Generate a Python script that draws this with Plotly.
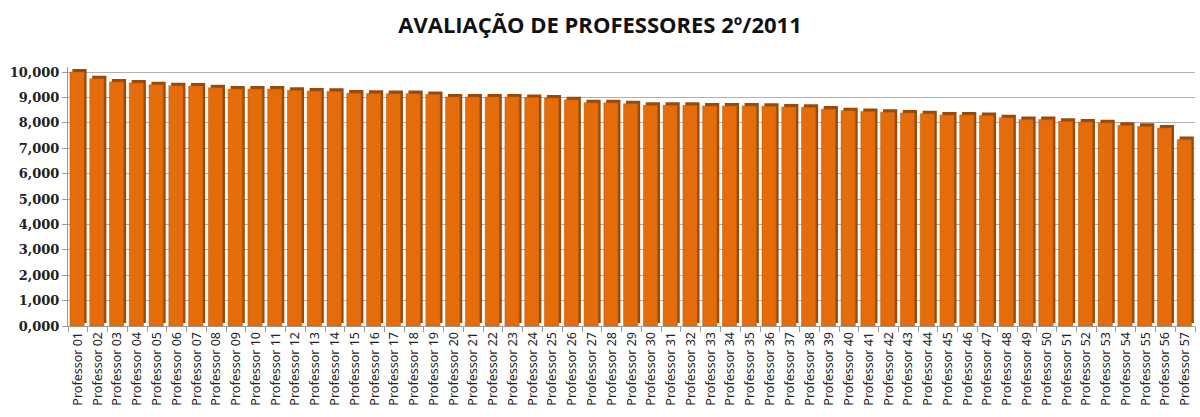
import plotly.graph_objects as go

professors = [f"Professor {i:02d}" for i in range(1, 58)]
scores = [
    10.00, 9.74, 9.61, 9.57, 9.50, 9.46, 9.45, 9.38, 9.33, 9.33,
    9.33, 9.28, 9.25, 9.24, 9.17, 9.16, 9.15, 9.15, 9.12, 9.02,
    9.02, 9.02, 9.02, 9.00, 8.98, 8.91, 8.79, 8.79, 8.75, 8.69,
    8.69, 8.69, 8.66, 8.66, 8.66, 8.65, 8.62, 8.61, 8.54, 8.48,
    8.45, 8.42, 8.39, 8.36, 8.31, 8.31, 8.29, 8.20, 8.13, 8.13,
    8.06, 8.03, 8.00, 7.90, 7.86, 7.80, 7.34,
]
y_ticks = [0, 1, 2, 3, 4, 5, 6, 7, 8, 9, 10]

fig = go.Figure()
# darker side/top face to mimic the 3D look
fig.add_trace(go.Bar(
    x=professors, y=scores, base=0.12,
    width=0.72, offset=-0.28,
    marker=dict(color="#9A4A06", line=dict(width=0)),
    hoverinfo="skip", showlegend=False,
))
# front face
fig.add_trace(go.Bar(
    x=professors, y=scores,
    width=0.72, offset=-0.40,
    marker=dict(color="#E46C0A", line=dict(color="#B85808", width=0.5)),
    showlegend=False,
))

fig.update_layout(
    width=1200, height=417,
    barmode="overlay",
    separators=",.",
    paper_bgcolor="white", plot_bgcolor="white",
    margin=dict(l=68, r=5, t=67, b=91),
    title=dict(
        text="AVALIAÇÃO DE PROFESSORES 2º/2011",
        x=0.5, xanchor="center", y=0.94, yanchor="middle",
        font=dict(family="Open Sans", size=22, color="#111111", weight="bold"),
    ),
    xaxis=dict(
        type="category",
        range=[-0.5, 56.5],
        tickangle=-90,
        tickfont=dict(family="Noto Sans", size=12.5, color="#222222"),
        ticks="outside", tickson="boundaries", ticklen=5, tickcolor="#999999",
        showline=True, linecolor="#999999", linewidth=1,
        showgrid=False,
    ),
    yaxis=dict(
        range=[0, 10.2],
        tickvals=y_ticks,
        tickformat=".3f",
        tickfont=dict(family="DejaVu Serif", size=13,
                      color="#222222", weight="bold"),
        ticks="outside", ticklen=5, tickcolor="#999999",
        showline=True, linecolor="#999999", linewidth=1,
        showgrid=True, gridcolor="#B0B0B0", gridwidth=1,
        zeroline=False,
    ),
)

fig.write_html(
    "out.html",
    config={"displayModeBar": False},
    post_script="document.body.style.margin='0';document.body.style.overflow='hidden';",
)
